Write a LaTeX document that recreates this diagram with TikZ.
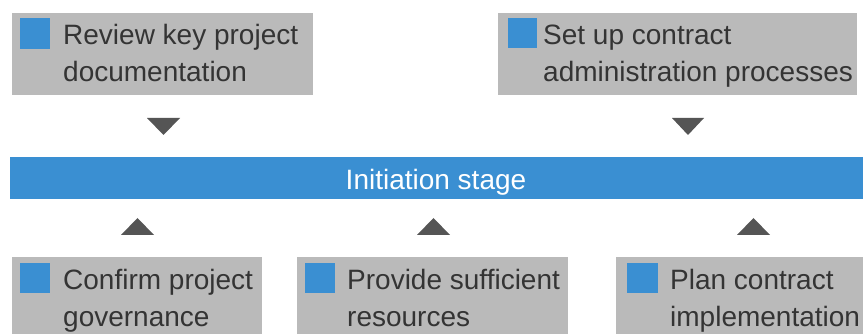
\documentclass[tikz,border=0pt]{standalone}
\usepackage{fontspec}
\setmainfont{Liberation Sans}
\begin{document}
\definecolor{boxgray}{RGB}{186,186,186}
\definecolor{stageblue}{RGB}{58,143,210}
\definecolor{textgray}{RGB}{52,52,52}
\definecolor{tipgray}{RGB}{85,85,85}
\begin{tikzpicture}[x=1pt,y=-1pt,
  taskbox/.style={fill=boxgray,draw=none},
  bullet/.style={fill=stageblue,draw=none},
  % the base anchor of a two-line text lies on its second line
  tasktext/.style={anchor=base west,inner sep=0pt,align=left,text=textgray,
    font=\fontsize{28}{37}\selectfont},
  stagetext/.style={anchor=base,inner sep=0pt,text=white,
    font=\fontsize{28}{37}\selectfont},
  tip/.style={fill=tipgray,draw=none}]
\useasboundingbox (0,0) rectangle (863,334);
\fill[white] (0,0) rectangle (863,334);

% tasks feeding the stage from above
\fill[taskbox] (12,13) rectangle (313,95);
\fill[bullet] (20,18) rectangle (50,49);
\node[tasktext] (review) at (63,82) {Review key project\\documentation};

\fill[taskbox] (498,13) rectangle (857,95);
\fill[bullet] (508,18) rectangle (537,48);
\node[tasktext] (setup) at (543,82) {Set up contract\\administration processes};

% the stage bar
\fill[stageblue] (10,157) rectangle (863,199);
\node[stagetext] (stage) at (436,190) {Initiation stage};

% tasks feeding the stage from below
\fill[taskbox] (12,257) rectangle (262,334);
\fill[bullet] (20,263) rectangle (50,293);
\node[tasktext] (governance) at (63,326) {Confirm project\\governance};

\fill[taskbox] (297,257) rectangle (568,334);
\fill[bullet] (305,263) rectangle (335,293);
\node[tasktext] (resources) at (347,326) {Provide sufficient\\resources};

\fill[taskbox] (616,257) rectangle (863,334);
\fill[bullet] (627,263) rectangle (658,293);
\node[tasktext] (plan) at (670,326) {Plan contract\\implementation};

% pointers towards the stage
\fill[tip] (147,118) -- (180,118) -- (163.5,135) -- cycle;
\fill[tip] (672,118) -- (704,118) -- (688,135) -- cycle;
\fill[tip] (121,235) -- (154,235) -- (137.5,218) -- cycle;
\fill[tip] (417,235) -- (450,235) -- (433.5,218) -- cycle;
\fill[tip] (737,235) -- (770,235) -- (753.5,218) -- cycle;
\end{tikzpicture}
\end{document}
